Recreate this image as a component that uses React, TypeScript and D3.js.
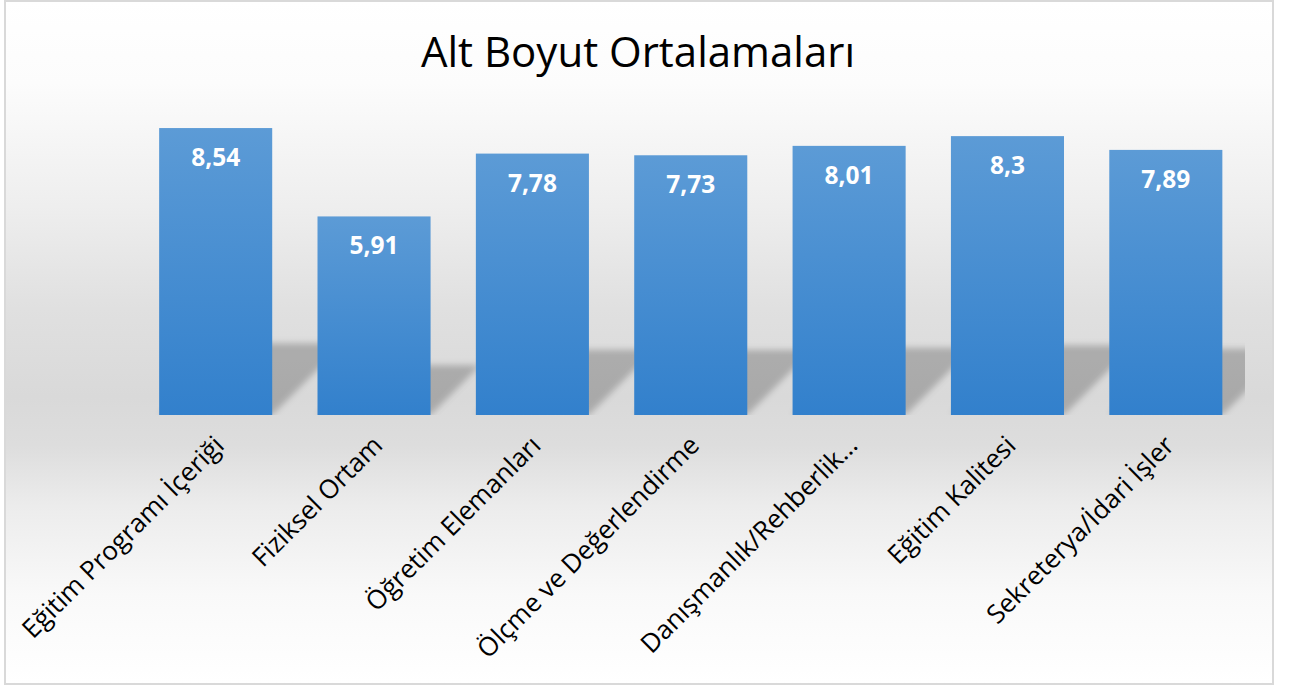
import React from "react";
import * as d3 from "d3";

const categories = [
  "Eğitim Programı İçeriği",
  "Fiziksel Ortam",
  "Öğretim Elemanları",
  "Ölçme ve Değerlendirme",
  "Danışmanlık/Rehberlik…",
  "Eğitim Kalitesi",
  "Sekreterya/İdari İşler",
];
const values = [8.54, 5.91, 7.78, 7.73, 8.01, 8.3, 7.89];
const valueLabels = ["8,54", "5,91", "7,78", "7,73", "8,01", "8,3", "7,89"];
const title = "Alt Boyut Ortalamaları";

const W = 1291;
const H = 687;
const plotLeft = 136.5;
const plotRight = 1245;
const plotBottom = 415;
const plotTop = 79;

export default function App() {
  const x = d3.scaleBand<string>().domain(categories).range([plotLeft, plotRight]).paddingInner(0.286).paddingOuter(0.143);
  const y = d3.scaleLinear().domain([0, 10]).range([plotBottom, plotTop]);
  const font = "'Open Sans', 'Noto Sans', sans-serif";

  return (
    <svg width={W} height={H} style={{ position: "absolute", left: 0, top: 0 }} xmlns="http://www.w3.org/2000/svg">
      <defs>
        <linearGradient id="bg" x1="0" y1="0" x2="0" y2="1">
          <stop offset="0" stopColor="#ffffff" />
          <stop offset="0.12" stopColor="#fcfcfc" />
          <stop offset="0.3" stopColor="#eeeeee" />
          <stop offset="0.45" stopColor="#e0e0e0" />
          <stop offset="0.58" stopColor="#d9d9d9" />
          <stop offset="0.65" stopColor="#dddddd" />
          <stop offset="0.74" stopColor="#ececec" />
          <stop offset="0.87" stopColor="#f9f9f9" />
          <stop offset="1" stopColor="#ffffff" />
        </linearGradient>
        <linearGradient id="bar" x1="0" y1="0" x2="0" y2="1">
          <stop offset="0" stopColor="#5c9bd6" />
          <stop offset="1" stopColor="#3280cc" />
        </linearGradient>
        <filter id="blur" x="-20%" y="-20%" width="140%" height="140%">
          <feGaussianBlur stdDeviation="3" />
        </filter>
        <clipPath id="plotClip">
          <rect x={plotLeft} y={0} width={plotRight - plotLeft} height={plotBottom} />
        </clipPath>
      </defs>
      <rect x={0} y={0} width={W} height={H} fill="#ffffff" />
      <rect x={5} y={1} width={1268} height={683} fill="url(#bg)" stroke="#d9d9d9" strokeWidth={2} />
      <text x={638} y={67} textAnchor="middle" fontFamily={font} fontSize={42} fill="#000000">
        {title}
      </text>
      <g clipPath="url(#plotClip)">
        {categories.map((c, i) => {
          const L = x(c)!;
          const R = L + x.bandwidth();
          const h = plotBottom - y(values[i]);
          const sh = h * 0.25;
          const dx = sh;
          const pts = [
            [L, plotBottom],
            [R, plotBottom],
            [R + dx, plotBottom - sh],
            [L + dx, plotBottom - sh],
          ];
          return (
            <polygon key={"s" + i} points={pts.map((p) => p.join(",")).join(" ")} fill="#000" fillOpacity={0.22} filter="url(#blur)" />
          );
        })}
      </g>
      {categories.map((c, i) => (
        <rect key={"b" + i} x={x(c)} y={y(values[i])} width={x.bandwidth()} height={plotBottom - y(values[i])} fill="url(#bar)" />
      ))}
      {categories.map((c, i) => (
        <text
          key={"v" + i}
          x={x(c)! + x.bandwidth() / 2}
          y={y(values[i]) + 38}
          textAnchor="middle"
          fontFamily={font}
          fontWeight="bold"
          fontSize={24.5}
          fill="#ffffff"
        >
          {valueLabels[i]}
        </text>
      ))}
      {categories.map((c, i) => {
        const cx = x(c)! + x.bandwidth() / 2 + 10;
        const cy = plotBottom + 32;
        return (
          <text
            key={"c" + i}
            transform={`translate(${cx},${cy}) rotate(-45)`}
            textAnchor="end"
            fontFamily={font}
            fontSize={26}
            fill="#000000"
          >
            {c}
          </text>
        );
      })}
    </svg>
  );
}
